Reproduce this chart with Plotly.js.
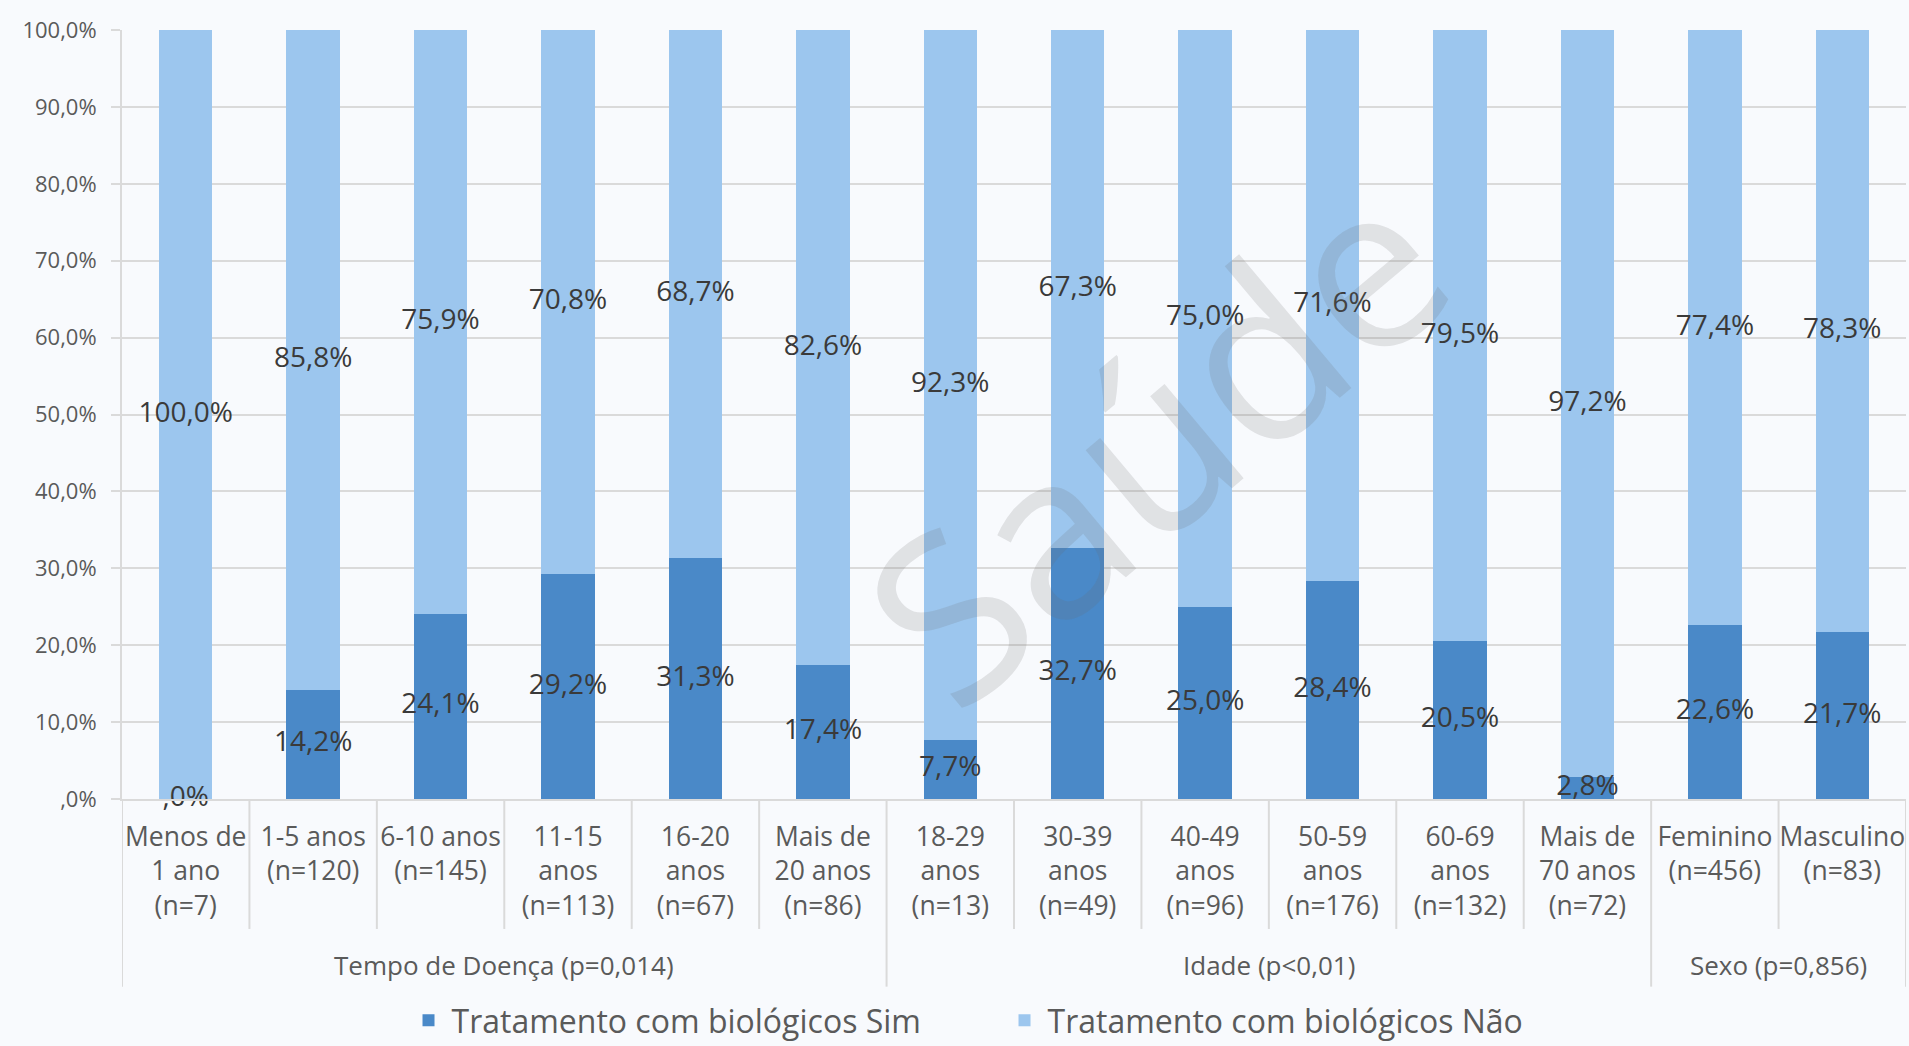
<!DOCTYPE html>
<html>
<head>
<meta charset="utf-8">
<script src="https://cdn.plot.ly/plotly-3.0.1.min.js"></script>
<style>
  html, body { margin: 0; padding: 0; background: #f8fafd; }
  #chart { width: 1909px; height: 1046px; }
</style>
</head>
<body>
<div id="chart"></div>
<script>
// Category labels (one per bar), with group membership
const categories = [
  'Menos de<br>1 ano<br>(n=7)',
  '1-5 anos<br>(n=120)',
  '6-10 anos<br>(n=145)',
  '11-15<br>anos<br>(n=113)',
  '16-20<br>anos<br>(n=67)',
  'Mais de<br>20 anos<br>(n=86)',
  '18-29<br>anos<br>(n=13)',
  '30-39<br>anos<br>(n=49)',
  '40-49<br>anos<br>(n=96)',
  '50-59<br>anos<br>(n=176)',
  '60-69<br>anos<br>(n=132)',
  'Mais de<br>70 anos<br>(n=72)',
  'Feminino<br>(n=456)',
  'Masculino<br>(n=83)'
];
const groupNames = ['Tempo de Doença (p=0,014)', 'Idade (p&lt;0,01)', 'Sexo (p=0,856)'];
const groupSizes = [6, 6, 2];

// Percentages per category
const simValues = [0.0, 14.2, 24.1, 29.2, 31.3, 17.4, 7.7, 32.7, 25.0, 28.4, 20.5, 2.8, 22.6, 21.7];
const naoValues = [100.0, 85.8, 75.9, 70.8, 68.7, 82.6, 92.3, 67.3, 75.0, 71.6, 79.5, 97.2, 77.4, 78.3];

const seriesNames = ['Tratamento com biológicos Sim', 'Tratamento com biológicos Não'];
const yTickValues = [0, 10, 20, 30, 40, 50, 60, 70, 80, 90, 100];
const watermarkText = 'Saúde';

// Portuguese percent format with the leading zero dropped (",0%")
function fmtPct(v) {
  let s = v.toFixed(1).replace('.', ',');
  if (s.startsWith('0,')) s = s.slice(1);
  return s + '%';
}

const COLOR_SIM = '#4a89c8';
const COLOR_NAO = '#9cc6ee';
const GRID = '#dadada';
const FONT = '"Open Sans", "Liberation Sans", sans-serif';

const traces = [
  {
    type: 'bar', name: seriesNames[0], x: categories, y: simValues,
    marker: { color: COLOR_SIM }, hoverinfo: 'skip'
  },
  {
    type: 'bar', name: seriesNames[1], x: categories, y: naoValues,
    marker: { color: COLOR_NAO }, hoverinfo: 'skip'
  },
  // value labels centred in each segment
  {
    type: 'scatter', mode: 'text', showlegend: false, hoverinfo: 'skip',
    x: categories.concat(categories),
    y: simValues.map(v => v / 2).concat(naoValues.map((v, i) => simValues[i] + v / 2)),
    text: simValues.map(fmtPct).concat(naoValues.map(fmtPct)),
    textposition: 'middle center',
    textfont: { family: FONT, size: 28, color: '#3a3a3a' },
    cliponaxis: false
  }
];

// Divider lines under the category axis
const shapes = [];
const groupEdges = [];
let acc = 0;
groupEdges.push(acc);
groupSizes.forEach(n => { acc += n; groupEdges.push(acc); });
for (let b = 0; b <= categories.length; b++) {
  const isGroupEdge = groupEdges.includes(b);
  shapes.push({
    type: 'line', xref: 'x', yref: 'paper',
    x0: b - 0.5, x1: b - 0.5,
    y0: 0, y1: isGroupEdge ? -0.244 : -0.169,
    line: { color: GRID, width: 2 }
  });
}

// Group titles under the categories
const annotations = [];
let start = 0;
groupSizes.forEach((n, g) => {
  annotations.push({
    xref: 'x', yref: 'paper',
    x: start + (n - 1) / 2, y: -0.216,
    text: groupNames[g], showarrow: false,
    xanchor: 'center', yanchor: 'middle',
    font: { family: FONT, size: 26, color: '#5a5a5a' }
  });
  start += n;
});

// faint diagonal watermark
annotations.push({
  xref: 'paper', yref: 'paper', x: 0.578, y: 0.47,
  text: watermarkText, showarrow: false, textangle: -40,
  xanchor: 'center', yanchor: 'middle',
  font: { family: FONT, size: 230, color: 'rgba(105,105,105,0.17)' }
});

const layout = {
  width: 1909, height: 1046,
  paper_bgcolor: '#f8fafd', plot_bgcolor: '#f8fafd',
  margin: { l: 122, r: 3, t: 30, b: 247, autoexpand: false },
  barmode: 'stack', bargap: 0.58,
  font: { family: FONT, color: '#5a5a5a' },
  xaxis: {
    type: 'category', range: [-0.5, categories.length - 0.5], autorange: false,
    tickfont: { family: FONT, size: 26.5, color: '#5a5a5a' },
    ticks: '', ticklabelstandoff: 13,
    showgrid: false, showline: true, linecolor: GRID, linewidth: 2,
    fixedrange: true
  },
  yaxis: {
    range: [0, 100], autorange: false,
    tickvals: yTickValues,
    ticktext: yTickValues.map(fmtPct),
    tickfont: { family: FONT, size: 22, color: '#5a5a5a' },
    ticks: 'outside', ticklen: 9, tickcolor: GRID, tickwidth: 2,
    ticklabelstandoff: 10,
    showgrid: true, gridcolor: GRID, gridwidth: 2,
    showline: true, linecolor: GRID, linewidth: 2,
    zeroline: false, fixedrange: true
  },
  legend: {
    orientation: 'h', x: 0.493, xanchor: 'center', y: -0.288, yanchor: 'middle',
    font: { family: FONT, size: 32, color: '#5a5a5a' },
    bgcolor: 'rgba(0,0,0,0)', traceorder: 'normal',
    itemwidth: 36,
    entrywidth: 545, entrywidthmode: 'pixels'
  },
  shapes: shapes,
  annotations: annotations,
  showlegend: true
};

Plotly.newPlot('chart', traces, layout, { displayModeBar: false, staticPlot: true });
</script>
</body>
</html>
